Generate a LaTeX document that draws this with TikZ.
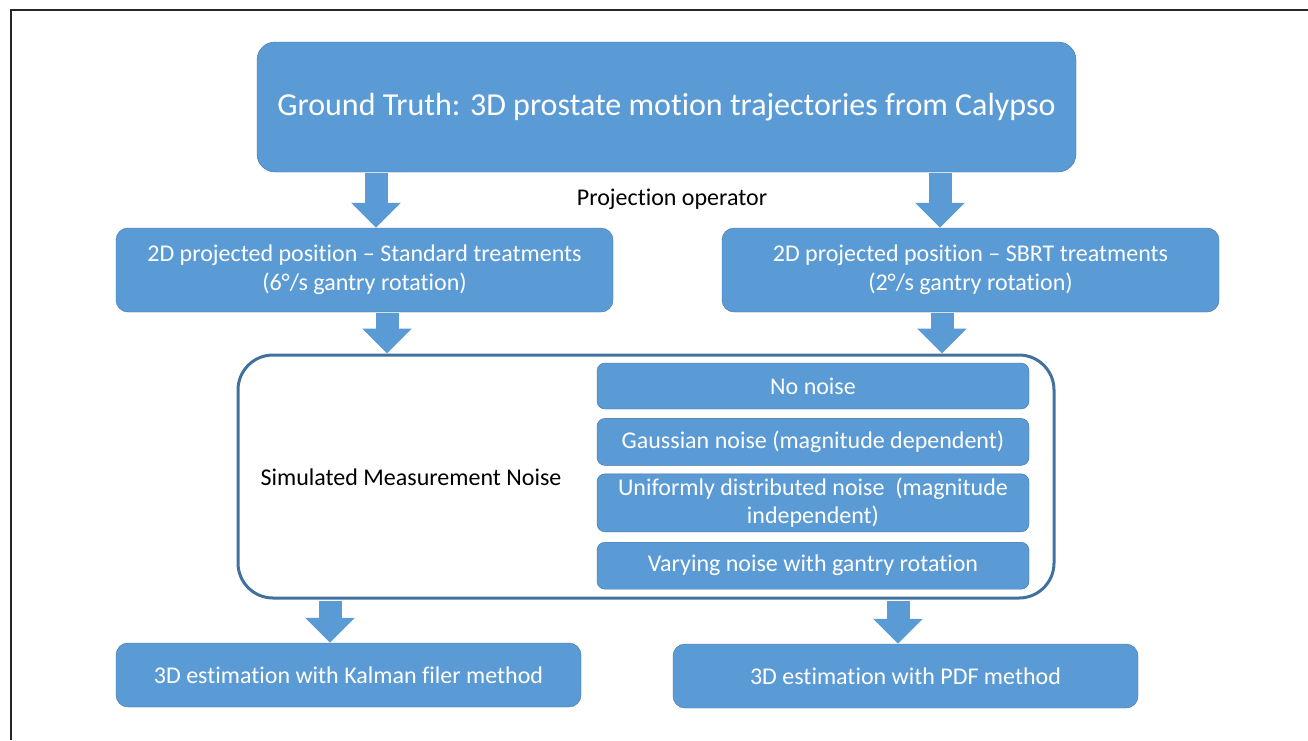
\documentclass[tikz,border=0pt]{standalone}
\usepackage{fontspec}
\setmainfont{Carlito}[RawFeature={-liga;-clig;-calt;-dlig}]
\usetikzlibrary{positioning,arrows.meta}
\definecolor{boxblue}{HTML}{5B9BD5}
\definecolor{edgeblue}{HTML}{41719C}

\begin{document}
\begin{tikzpicture}[x=1pt, y=-1pt]
            \tikzstyle{bluebox} = [draw=edgeblue, fill=boxblue, rounded corners=12pt, text=white, align=center, inner sep=0pt, font=\fontsize{24}{29}\selectfont];
            \tikzstyle{plain} = [text=black, inner sep=0pt, font=\fontsize{24}{28}\selectfont];
            \tikzstyle{blockarrow} = [draw=boxblue, line width=23pt, -{Triangle[width=48pt,length=25pt]}, shorten <=1pt];
            \useasboundingbox (0,0) rectangle (1308,740);
            \draw [line width=1.5pt, black!85] (1308,10) -- (11,10) -- (11,740);

            \node [bluebox, minimum width=819pt, minimum height=130pt, rounded corners=18pt, font=\fontsize{32}{38}\selectfont] (GT) at (666.5,107) {Ground Truth: 3D prostate motion trajectories from Calypso};

            \node [bluebox, minimum width=497pt, minimum height=84pt] (PStd) at (364.5,270) {2D projected position -- Standard treatments\\(6°/s gantry rotation)};
            \node [bluebox, minimum width=497pt, minimum height=84pt] (PSbrt) at (970.5,270) {2D projected position -- SBRT treatments\\(2°/s gantry rotation)};
            \node [plain] (Proj) at (672,199) {Projection operator};

            \node [draw=edgeblue, line width=3pt, fill=white, rounded corners=35pt, minimum width=816pt, minimum height=243pt] (Noise) at (646,476.5) {};
            \node [plain] (SimN) at (411,477) {Simulated Measurement Noise};

            \node [bluebox, minimum width=432pt, minimum height=46pt, rounded corners=8pt] (N1) at (813,386) {No noise};
            \node [bluebox, minimum width=432pt, minimum height=47pt, rounded corners=8pt, below = 9pt of N1] (N2) {Gaussian noise (magnitude dependent)};
            \node [bluebox, minimum width=432pt, minimum height=58pt, rounded corners=8pt, below = 8pt of N2, font=\fontsize{24}{28}\selectfont] (N3) {Uniformly distributed noise\ \ (magnitude\\independent)};
            \node [bluebox, minimum width=432pt, minimum height=47pt, rounded corners=8pt, below = 10pt of N3] (N4) {Varying noise with gantry rotation};

            \node [bluebox, minimum width=465pt, minimum height=64pt] (Kal) at (348.5,675) {3D estimation with Kalman filer method};
            \node [bluebox, minimum width=465pt, minimum height=64pt] (Pdf) at (905.5,676) {3D estimation with PDF method};

            \draw [blockarrow] ([xshift=11.5pt]PStd.north |- GT.south) to ([xshift=11.5pt]PStd.north);
            \draw [blockarrow] ([xshift=-30.5pt]PSbrt.north |- GT.south) to ([xshift=-30.5pt]PSbrt.north);
            \draw [blockarrow] ([xshift=22.5pt]PStd.south) to ([xshift=22.5pt]PStd.south |- Noise.north);
            \draw [blockarrow] ([xshift=-28.5pt]PSbrt.south) to ([xshift=-28.5pt]PSbrt.south |- Noise.north);
            \draw [blockarrow] ([xshift=-18.5pt]Kal.north |- Noise.south) to ([xshift=-18.5pt]Kal.north);
            \draw [blockarrow] ([xshift=-7.5pt]Pdf.north |- Noise.south) to ([xshift=-7.5pt]Pdf.north);
        \end{tikzpicture}
\end{document}
